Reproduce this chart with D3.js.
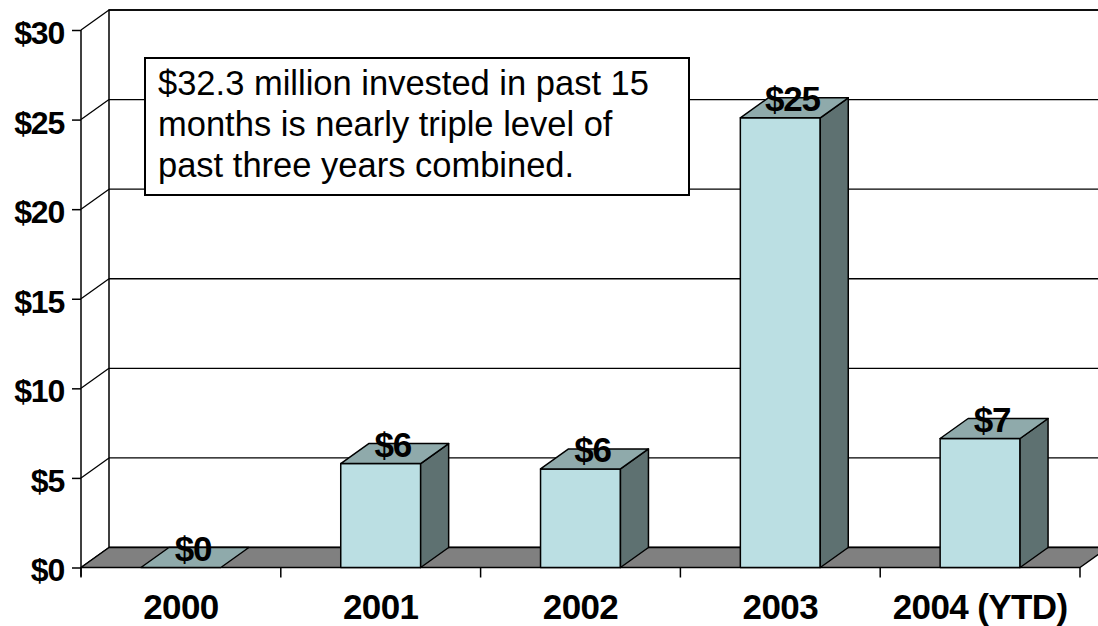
<!DOCTYPE html>
<html>
<head>
<meta charset="utf-8">
<script src="https://cdn.jsdelivr.net/npm/d3@7"></script>
<style>
  html, body { margin: 0; padding: 0; background: #fff; }
  svg { display: block; }
  text { font-family: "Liberation Sans", Arial, sans-serif; fill: #000; }
</style>
</head>
<body>
<svg id="chart" width="1098" height="626"></svg>
<script>
// ---- data ----
const categories = ["2000", "2001", "2002", "2003", "2004 (YTD)"];
const values = [0, 5.8, 5.5, 25.1, 7.2];
const valueLabels = ["$0", "$6", "$6", "$25", "$7"];
const yTicks = [0, 5, 10, 15, 20, 25, 30];
const noteLines = [
  "$32.3 million invested in past 15",
  "months is nearly triple level of",
  "past three years combined."
];

(function () {
// ---- layout ----
const W = 1098, H = 626;
const pLeft = 81, pRight = 1080, pTop = 30, pBottom = 567.5;
const DX = 28, DY = 20; // depth offset
const colFront = "#BBDFE3", colTop = "#8FAAAB", colSide = "#5E7171", colFloor = "#808080";

const svg = d3.select("#chart");
const x = d3.scaleBand().domain(categories).range([pLeft, pRight]).paddingInner(0.6).paddingOuter(0.3);
const y = d3.scaleLinear().domain([0, 30]).range([pBottom, pTop]);

const g = svg.append("g");

// back wall
g.append("rect").attr("x", pLeft + DX).attr("y", pTop - DY)
  .attr("width", W + 40 - (pLeft + DX)).attr("height", pBottom - pTop)
  .attr("fill", "#fff").attr("stroke", "#000").attr("stroke-width", 1.5);

// gridlines on back wall and side wall
yTicks.forEach(v => {
  g.append("line").attr("x1", pLeft + DX).attr("x2", W + 40)
    .attr("y1", y(v) - DY).attr("y2", y(v) - DY)
    .attr("stroke", "#000").attr("stroke-width", 1.3);
  g.append("line").attr("x1", pLeft).attr("x2", pLeft + DX)
    .attr("y1", y(v)).attr("y2", y(v) - DY)
    .attr("stroke", "#000").attr("stroke-width", 1.3);
});

// floor
const floorPts = [[pLeft, pBottom], [pLeft + DX, pBottom - DY], [pRight + DX, pBottom - DY], [pRight, pBottom]];
g.append("polygon").attr("points", floorPts.map(p => p.join(",")).join(" "))
  .attr("fill", colFloor).attr("stroke", "#000").attr("stroke-width", 1.5).attr("stroke-linejoin", "round");

// bars
const bars = g.selectAll("g.bar").data(categories.map((c, i) => ({ c, v: values[i], lab: valueLabels[i] })))
  .enter().append("g").attr("class", "bar");

bars.each(function(d) {
  const b = d3.select(this);
  const x0 = x(d.c), x1 = x(d.c) + x.bandwidth();
  const yt = y(d.v), yb = y(0);
  if (d.v > 0) {
    b.append("polygon")
      .attr("points", [[x0, yb], [x0, yt], [x1, yt], [x1, yb]].map(p => p.join(",")).join(" "))
      .attr("fill", colFront).attr("stroke", "#000").attr("stroke-width", 1.5).attr("stroke-linejoin", "round");
    b.append("polygon")
      .attr("points", [[x1, yb], [x1, yt], [x1 + DX, yt - DY], [x1 + DX, yb - DY]].map(p => p.join(",")).join(" "))
      .attr("fill", colSide).attr("stroke", "#000").attr("stroke-width", 1.5).attr("stroke-linejoin", "round");
  }
  b.append("polygon")
    .attr("points", [[x0, yt], [x0 + DX, yt - DY], [x1 + DX, yt - DY], [x1, yt]].map(p => p.join(",")).join(" "))
    .attr("fill", colTop).attr("stroke", "#000").attr("stroke-width", 1.5).attr("stroke-linejoin", "round");
});

// value labels
bars.append("text")
  .attr("x", d => x(d.c) + x.bandwidth() / 2 + 12)
  .attr("y", d => y(d.v) - 7)
  .attr("text-anchor", "middle")
  .attr("font-size", 35).attr("font-weight", "bold")
  .attr("letter-spacing", -1.2)
  .text(d => d.lab);

// y axis
const yAxis = d3.axisLeft(y).tickValues(yTicks).tickSize(9).tickPadding(8).tickFormat(d => "$" + d);
const ya = svg.append("g").attr("transform", `translate(${pLeft},0)`).call(yAxis);
ya.select(".domain").attr("d", `M0,${pTop}V${pBottom + 9}`).attr("stroke", "#000").attr("stroke-width", 1.5);
ya.selectAll(".tick line").attr("stroke", "#000").attr("stroke-width", 1.5);
ya.selectAll(".tick text").attr("font-size", 32).attr("font-weight", "bold")
  .attr("font-family", '"Liberation Sans", Arial, sans-serif').attr("letter-spacing", -1.2)
  .attr("dy", "0.42em").attr("fill", "#000");

// x axis ticks at category boundaries
const bounds = d3.range(categories.length + 1).map(i => pLeft + i * x.step());
svg.append("g").selectAll("line").data(bounds).enter().append("line")
  .attr("x1", d => d).attr("x2", d => d).attr("y1", pBottom).attr("y2", pBottom + 10)
  .attr("stroke", "#000").attr("stroke-width", 1.5);

const xa = svg.append("g").attr("transform", `translate(0,${pBottom})`)
  .call(d3.axisBottom(x).tickSize(0).tickPadding(0));
xa.select(".domain").remove();
xa.selectAll(".tick text").attr("font-size", 35).attr("font-weight", "bold")
  .attr("font-family", '"Liberation Sans", Arial, sans-serif')
  .attr("letter-spacing", -0.6)
  .attr("dy", 0).attr("y", 51).attr("fill", "#000");

// annotation box
const note = svg.append("g");
note.append("rect").attr("x", 145).attr("y", 58).attr("width", 544).attr("height", 137)
  .attr("fill", "#fff").attr("stroke", "#000").attr("stroke-width", 2);
note.selectAll("text").data(noteLines).enter().append("text")
  .attr("x", 158).attr("y", (d, i) => 95 + i * 41)
  .attr("font-size", 34.5)
  .text(d => d);
})();
</script>
</body>
</html>
